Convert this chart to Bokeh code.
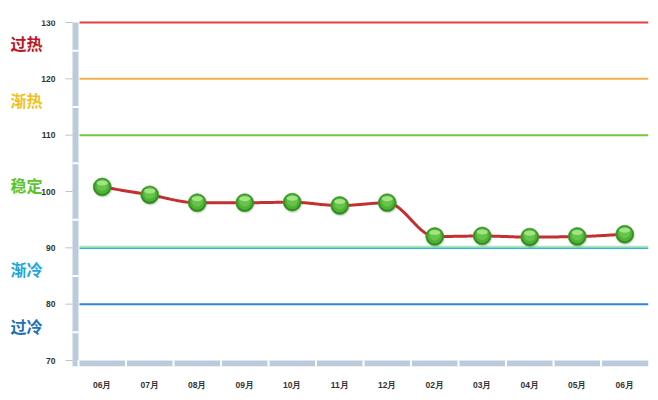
import numpy as np
from bokeh.plotting import figure
from bokeh.models import Range1d, FixedTicker
from bokeh.core.properties import value
from bokeh.embed import file_html
from bokeh.resources import INLINE

# ---- data ----
months = ["06月", "07月", "08月", "09月", "10月", "11月", "12月", "02月", "03月", "04月", "05月", "06月"]
values = [100.8, 99.4, 98.0, 98.0, 98.1, 97.5, 98.0, 92.0, 92.1, 91.9, 92.0, 92.4]
y_ticks = [70, 80, 90, 100, 110, 120, 130]
y_minor = [75, 85, 95, 105, 115, 125]
level_values = [130, 120, 110, 80]
level_colors = ["#e2413f", "#f2b050", "#78c83c", "#2f86d6"]
cold_level = 90
zone_names = ["过热", "渐热", "稳定", "渐冷", "过冷"]
zone_label_y = [126.3, 116.2, 101.2, 86.2, 76.2]
zone_colors = ["#c0141e", "#f2c21c", "#5ac42c", "#22a6e0", "#1f6fb8"]

x = np.arange(len(values), dtype=float)
PXY = 338.0 / 60.0   # px per y unit (style offsets)
DX = 47.5            # px per category
X0 = 101.75          # page px of first category centre


def px(v):
    """page pixel -> data x (for decoration placement)"""
    return (v - X0) / DX


def monotone(xs, ys, n=30):
    xs = np.asarray(xs, float)
    ys = np.asarray(ys, float)
    h = np.diff(xs)
    d = np.diff(ys) / h
    m = np.zeros_like(ys)
    m[0] = d[0]
    m[-1] = d[-1]
    for i in range(1, len(xs) - 1):
        if d[i - 1] * d[i] <= 0:
            m[i] = 0.0
        else:
            w1 = 2 * h[i] + h[i - 1]
            w2 = h[i] + 2 * h[i - 1]
            m[i] = (w1 + w2) / (w1 / d[i - 1] + w2 / d[i])
    ox, oy = [], []
    for i in range(len(xs) - 1):
        t = np.linspace(0, 1, n, endpoint=(i == len(xs) - 2))
        h00 = 2 * t**3 - 3 * t**2 + 1
        h10 = t**3 - 2 * t**2 + t
        h01 = -2 * t**3 + 3 * t**2
        h11 = t**3 - t**2
        ox.extend(xs[i] + t * h[i])
        oy.extend(h00 * ys[i] + h10 * h[i] * m[i] + h01 * ys[i + 1] + h11 * h[i] * m[i + 1])
    return ox, oy


y_bottom = 70 - 6 / PXY
bar_l, bar_r = px(72), px(78)

p = figure(
    width=656, height=396,
    x_range=Range1d(px(8), 11.5),
    y_range=Range1d(y_bottom, y_bottom + 346 / PXY),
    output_backend="svg", toolbar_location=None,
    min_border_left=8, min_border_right=8, min_border_top=20, min_border_bottom=30,
    background_fill_color="white", border_fill_color="white",
)
p.outline_line_color = None
p.xgrid.visible = False
p.ygrid.visible = False
p.yaxis.visible = False

# x axis
p.xaxis.ticker = FixedTicker(ticks=list(range(len(months))))
p.xaxis.major_label_overrides = {i: m for i, m in enumerate(months)}
p.xaxis.axis_line_color = None
p.xaxis.major_tick_out = 0
p.xaxis.major_tick_in = 0
p.xaxis.minor_tick_line_color = None
p.xaxis.major_label_standoff = 13
p.xaxis.major_label_text_font = "Liberation Sans"
p.xaxis.major_label_text_font_size = "8.5px"
p.xaxis.major_label_text_font_style = "bold"
p.xaxis.major_label_text_color = "#333333"

bar_color = "#bccbdb"
# vertical bar (y axis)
p.quad(left=bar_l, right=bar_r, bottom=y_bottom, top=130, fill_color=bar_color, line_color=None)
p.segment(x0=[bar_l] * len(y_minor), x1=[bar_r] * len(y_minor), y0=y_minor, y1=y_minor,
          line_color="white", line_width=2)
# y ticks + labels
nt = len(y_ticks)
p.segment(x0=[px(65)] * nt, x1=[bar_l] * nt, y0=y_ticks, y1=y_ticks,
          line_color="#b8c4d0", line_width=1)
p.text(x=[px(55)] * nt, y=y_ticks, text=[str(t) for t in y_ticks],
       text_font=value("Liberation Sans"), text_font_size="8.5px", text_font_style="bold",
       text_color="#333333", text_align="right", text_baseline="middle")

# horizontal bar (x axis)
p.quad(left=bar_r, right=11.5, bottom=y_bottom, top=70, fill_color=bar_color, line_color=None)
bounds = [i - 0.5 for i in range(len(months))]
p.segment(x0=bounds, x1=bounds, y0=[y_bottom] * len(bounds), y1=[70.05] * len(bounds),
          line_color="white", line_width=2)

# level lines
n = len(level_values)
p.segment(x0=[px(79)] * n, x1=[11.5] * n, y0=level_values, y1=level_values,
          line_color=level_colors, line_width=2)
p.segment(x0=[px(79)], x1=[11.5], y0=[cold_level + 1.2 / PXY], y1=[cold_level + 1.2 / PXY],
          line_color="#b4e6a4", line_width=1.6)
p.segment(x0=[px(79)], x1=[11.5], y0=[cold_level - 0.4 / PXY], y1=[cold_level - 0.4 / PXY],
          line_color="#2cb4e6", line_width=1.6)

# zone labels
p.text(x=[px(10)] * len(zone_names), y=zone_label_y, text=zone_names,
       text_font=value("Noto Sans CJK SC"), text_font_size="16px", text_font_style="bold",
       text_color=zone_colors, text_align="left", text_baseline="middle")

# curve
cx, cy = monotone(x, values)
p.line(cx, cy, line_color="#c42f2f", line_width=3)

# markers (glossy spheres)
vals = np.asarray(values)
p.scatter(x + 0.02, vals - 1.5 / PXY, size=19, fill_color="#000000", fill_alpha=0.10, line_color=None)
p.scatter(x, vals, size=18, fill_color="#2e8c1c", line_color="#4a9e3a", line_width=0.8)
p.scatter(x, vals + 0.6 / PXY, size=15, fill_color="#4fb236", line_color=None)
p.scatter(x, vals + 1.6 / PXY, size=11, fill_color="#66c44a", line_color=None)
p.ellipse(x, vals + 4.0 / PXY, width=11, height=5, width_units="screen", height_units="screen",
          fill_color="#a8e88c", fill_alpha=0.9, line_color=None)

open("out.html", "w").write(file_html(p, INLINE))
